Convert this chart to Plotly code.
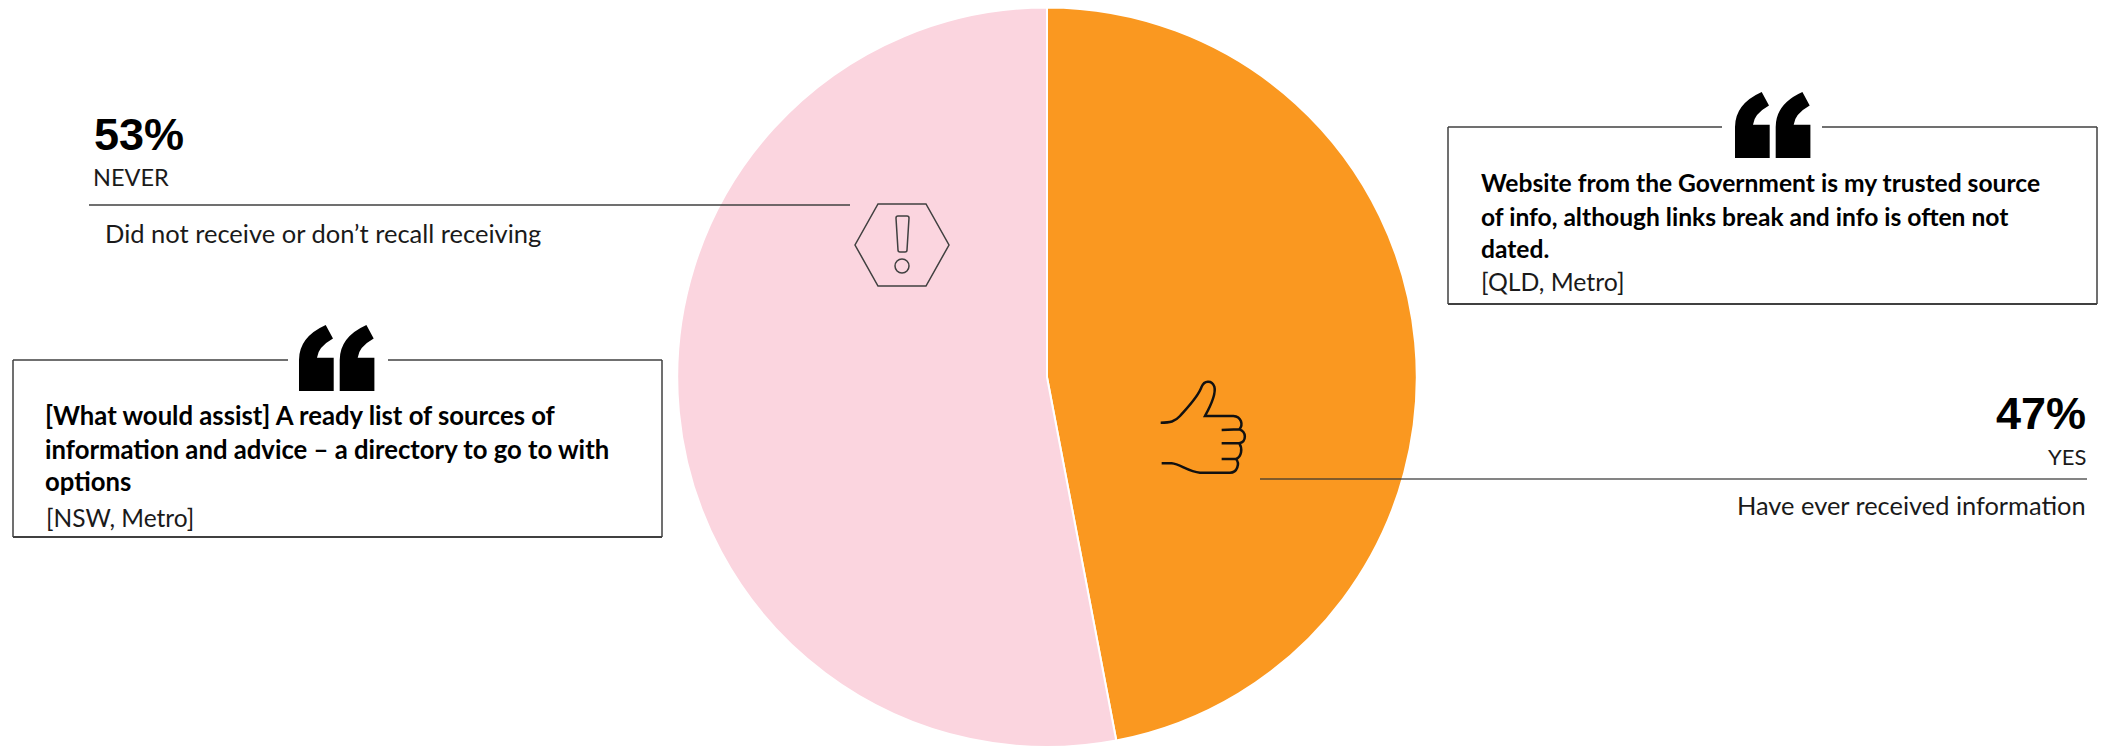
import plotly.graph_objects as go

W, H = 2105, 747

# ---- data ----
categories = ["YES", "NEVER"]
values = [47, 53]
colors = ["#FA9820", "#FBD5DF"]
descriptions = ["Have ever received information", "Did not receive or don\u2019t recall receiving"]
quote_left = [
    "[What would assist] A ready list of sources of",
    "information and advice \u2013 a directory to go to with",
    "options",
]
source_left = "[NSW, Metro]"
quote_right = [
    "Website from the Government is my trusted source",
    "of info, although links break and info is often not",
    "dated.",
]
source_right = "[QLD, Metro]"

BODY = "Lato, Carlito, sans-serif"
HEAD = "Liberation Sans, Arial, sans-serif"
LINE = "#404040"
TXT = "#1a1a1a"


def px(x):
    return x / W


def py(y):
    return 1 - y / H


def P(x, y):
    return f"{px(x):.5f} {py(y):.5f}"


fig = go.Figure(
    go.Pie(
        labels=categories,
        values=values,
        sort=False,
        direction="clockwise",
        rotation=0,
        marker=dict(colors=colors, line=dict(color="white", width=2)),
        textinfo="none",
        hoverinfo="label+percent",
        domain=dict(x=[px(676), px(1418)], y=[0, 0.99]),
        showlegend=False,
    )
)

shapes = []


def seg(x0, y0, x1, y1, w=1.5, color=LINE):
    shapes.append(dict(type="line", xref="paper", yref="paper",
                       x0=px(x0), y0=py(y0), x1=px(x1), y1=py(y1),
                       line=dict(color=color, width=w)))


def path(d, lw=1.5, color=LINE, fill=None):
    shapes.append(dict(type="path", xref="paper", yref="paper", path=d,
                       line=dict(color=color, width=lw),
                       fillcolor=fill if fill else "rgba(0,0,0,0)"))


# callout rules
seg(89, 205, 850, 205)
seg(1260, 479, 2087, 479, color="rgba(50,50,50,0.8)")


# quote boxes with a gap in the top edge
def box(x0, y0, x1, y1, g0, g1):
    seg(x0, y0, g0, y0)
    seg(g1, y0, x1, y0)
    seg(x0, y0, x0, y1)
    seg(x1, y0, x1, y1)
    seg(x0, y1, x1, y1, w=2)


box(13, 360, 662, 537, 288, 388)
box(1448, 127, 2097, 304, 1722, 1822)


# quotation mark glyph, two strokes
def quote(ox, oy):
    for dx in (0, 40.7):
        d = f"M {P(ox+dx, oy+66)} L {P(ox+dx+34.7, oy+66)} L {P(ox+dx+34.7, oy+32.7)} L {P(ox+dx+18, oy+32.7)} "
        d += f"Q {P(ox+dx+19, oy+22)} {P(ox+dx+34, oy+13.5)} "
        d += f"L {P(ox+dx+26.7, oy)} "
        d += f"Q {P(ox+dx, oy+12)} {P(ox+dx, oy+35)} Z"
        path(d, lw=0, color="black", fill="black")


quote(299, 325)
quote(1735, 92)

# warning hexagon
hexagon = [(878, 204), (926, 204), (949, 245), (926, 286), (878, 286), (855, 245)]
path("M " + " L ".join(P(*p) for p in hexagon) + " Z")
path(f"M {P(896,218)} Q {P(896,216)} {P(898,216)} L {P(907,216)} Q {P(909,216)} {P(909,218)} "
     f"L {P(907,250)} Q {P(907,252)} {P(905,252)} L {P(900,252)} Q {P(898,252)} {P(898,250)} Z")
shapes.append(dict(type="circle", xref="paper", yref="paper",
                   x0=px(895), x1=px(909), y0=py(259), y1=py(273),
                   line=dict(color=LINE, width=1.5)))


# thumbs up
def T(x, y):
    return P(1130 + x / 3, 360 + y / 3)


thumb = (
    f"M {T(92,188)} C {T(120,188)} {T(135,185)} {T(150,168)} "
    f"C {T(175,140)} {T(205,110)} {T(215,80)} C {T(222,62)} {T(245,58)} {T(253,80)} "
    f"C {T(260,105)} {T(235,150)} {T(225,168)} L {T(310,168)} "
    f"C {T(335,170)} {T(340,195)} {T(328,208)} L {T(275,210)} "
    f"M {T(328,208)} C {T(350,215)} {T(350,245)} {T(328,250)} L {T(275,250)} "
    f"M {T(328,250)} C {T(338,265)} {T(335,290)} {T(318,297)} L {T(275,297)} "
    f"M {T(318,297)} C {T(330,310)} {T(322,338)} {T(300,338)} L {T(210,338)} "
    f"C {T(175,335)} {T(150,312)} {T(125,310)} L {T(95,310)}"
)
path(thumb, lw=2.5, color="#111111")

annotations = []


def text(x, y, s, size, anchor="left", bold=False, family=BODY, color=TXT):
    annotations.append(dict(
        xref="paper", yref="paper", x=px(x), y=py(y), text=f"<b>{s}</b>" if bold else s,
        showarrow=False, xanchor=anchor, yanchor="middle", align=anchor,
        xshift=0, yshift=0, borderpad=0,
        font=dict(family=family, size=size, color=color),
    ))


text(93, 134, f"{values[1]}%", 45, bold=True, family=HEAD, color="#000000")
text(92, 177, categories[1], 23.5)
text(104, 233, descriptions[1], 25.5)

text(2087, 413, f"{values[0]}%", 45, anchor="right", bold=True, family=HEAD, color="#000000")
text(2087, 457, categories[0], 22, anchor="right")
text(2087, 505, descriptions[0], 25.4, anchor="right")

for y, s in zip((415, 449, 481), quote_left):
    text(44, y, s, 25.7, bold=True, color="#000000")
text(45, 517, source_left, 24.5)

for y, s in zip((182, 216, 248), quote_right):
    text(1480, y, s, 24.6, bold=True, color="#000000")
text(1480, 281, source_right, 24.8)

fig.update_layout(
    width=W, height=H, autosize=False,
    margin=dict(l=0, r=0, t=0, b=0),
    paper_bgcolor="white", plot_bgcolor="white",
    shapes=shapes, annotations=annotations,
)

fig.write_html("out.html", config=dict(displayModeBar=False),
               post_script="document.body.style.margin='0';document.documentElement.style.overflow='hidden';")
